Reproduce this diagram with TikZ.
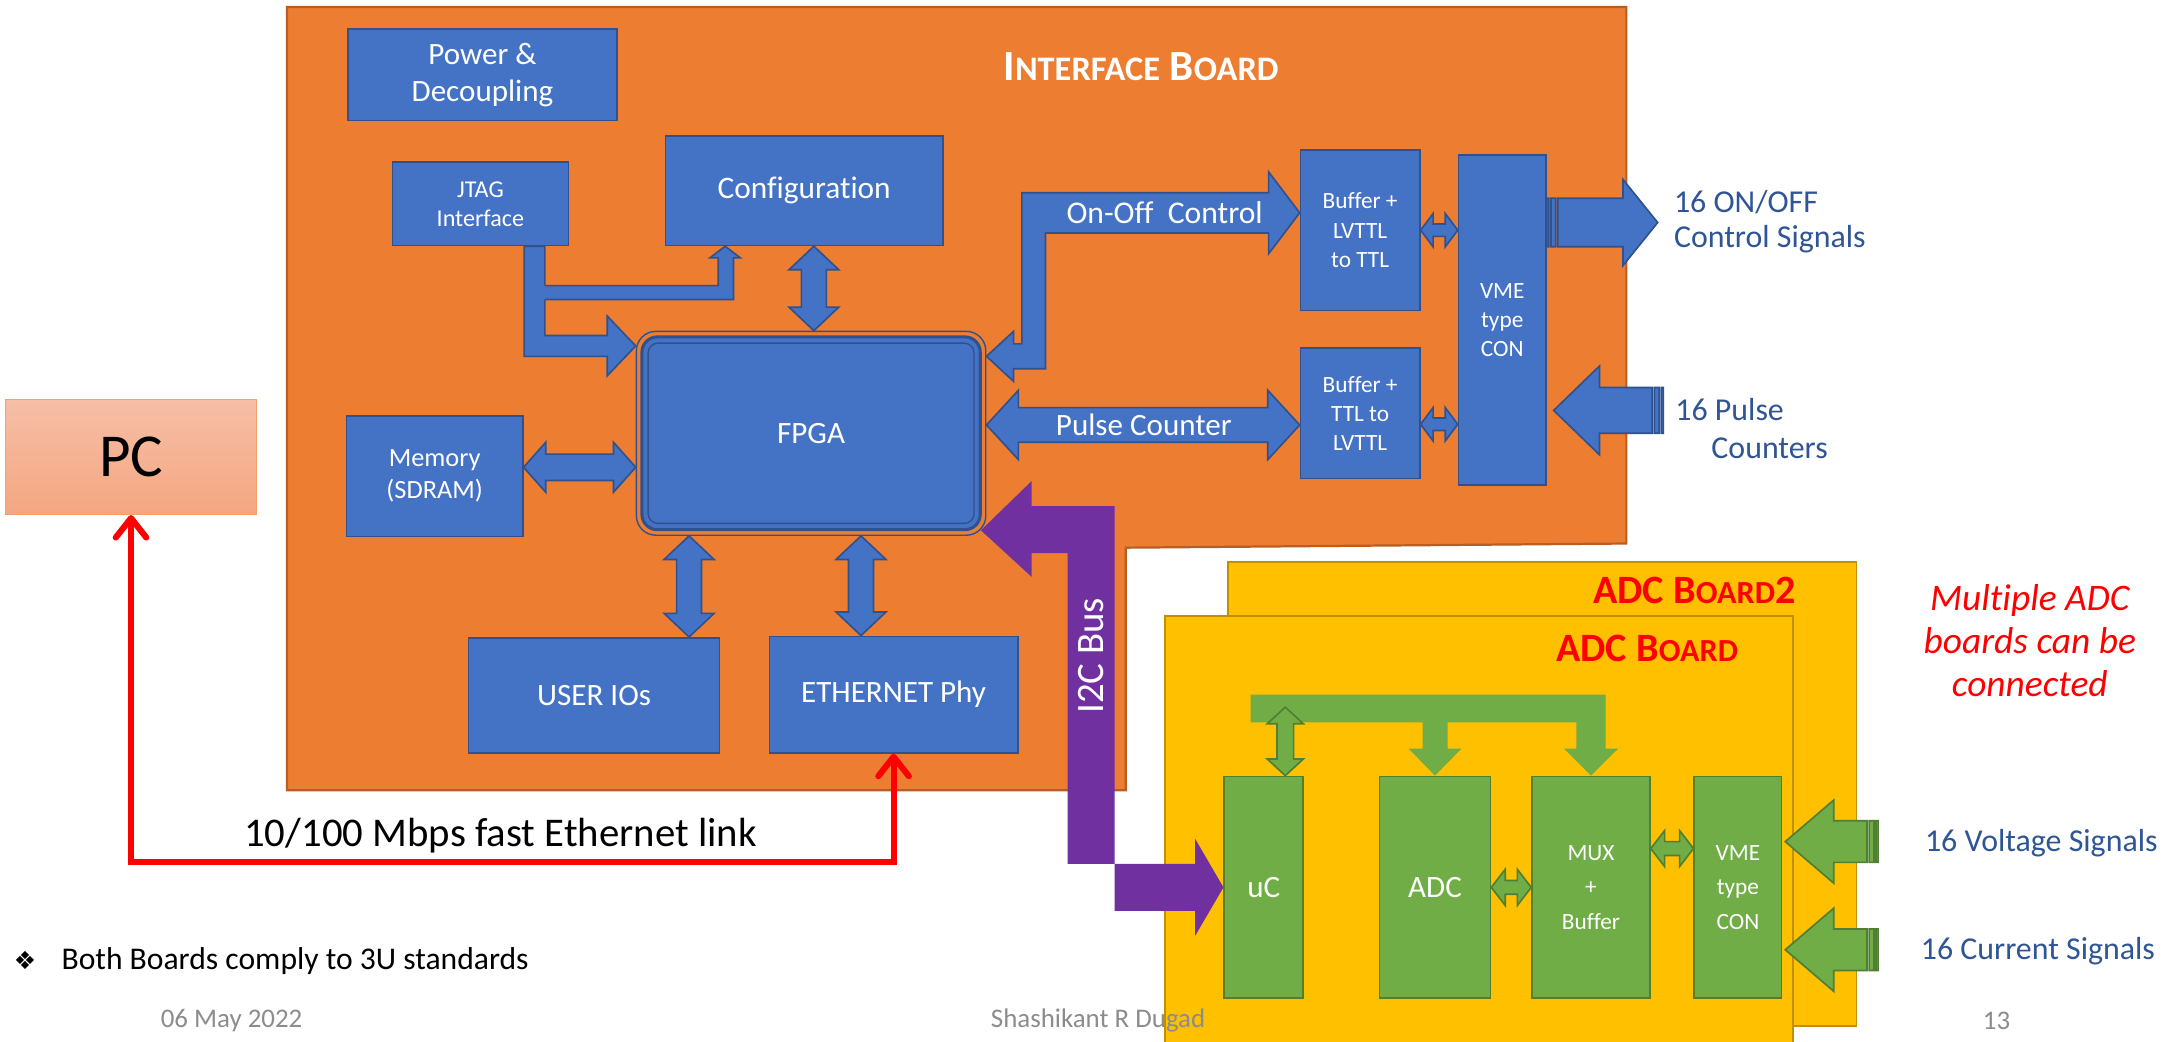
\documentclass[tikz,border=0pt]{standalone}
\usepackage{fontspec}
\setmainfont{Carlito}[Ligatures=NoCommon]
\newfontfamily\symfont{DejaVu Sans}
\usetikzlibrary{calc, arrows.meta}

\definecolor{ifblue}{HTML}{4472C4}
\definecolor{ifline}{HTML}{2F528F}
\definecolor{board}{HTML}{ED7D31}
\definecolor{boardline}{HTML}{B85E22}
\definecolor{adcyel}{HTML}{FFC000}
\definecolor{adcline}{HTML}{BF9000}
\definecolor{ucgreen}{HTML}{70AD47}
\definecolor{grnline}{HTML}{507E32}
\definecolor{i2cpurple}{HTML}{7030A0}
\definecolor{sigblue}{HTML}{2F5597}
\definecolor{footgray}{HTML}{8C8C8C}
\definecolor{pctop}{HTML}{F6BFA8}
\definecolor{pcbot}{HTML}{F4A680}
\definecolor{pcline}{HTML}{F4A070}

\def\vpx{0.5pt}

% fat double arrows: tip, tip, shaft half width, head half width, head length
\newcommand{\dblH}[6][]{%
  \path[#1] let \p1=(#2), \p2=(#3) in
    (\x1,\y1) -- ({\x1+#6*\vpx},{\y1+#5*\vpx}) -- ({\x1+#6*\vpx},{\y1+#4*\vpx})
    -- ({\x2-#6*\vpx},{\y1+#4*\vpx}) -- ({\x2-#6*\vpx},{\y1+#5*\vpx}) -- (\x2,\y1)
    -- ({\x2-#6*\vpx},{\y1-#5*\vpx}) -- ({\x2-#6*\vpx},{\y1-#4*\vpx})
    -- ({\x1+#6*\vpx},{\y1-#4*\vpx}) -- ({\x1+#6*\vpx},{\y1-#5*\vpx}) -- cycle;}
\newcommand{\dblV}[6][]{%
  \path[#1] let \p1=(#2), \p2=(#3) in
    (\x1,\y1) -- ({\x1+#5*\vpx},{\y1-#6*\vpx}) -- ({\x1+#4*\vpx},{\y1-#6*\vpx})
    -- ({\x1+#4*\vpx},{\y2+#6*\vpx}) -- ({\x1+#5*\vpx},{\y2+#6*\vpx}) -- (\x1,\y2)
    -- ({\x1-#5*\vpx},{\y2+#6*\vpx}) -- ({\x1-#4*\vpx},{\y2+#6*\vpx})
    -- ({\x1-#4*\vpx},{\y1-#6*\vpx}) -- ({\x1-#5*\vpx},{\y1-#6*\vpx}) -- cycle;}
% striped signal arrow: tip, direction (1 right, -1 left), length, head length, shaft half, head half
\newcommand{\sigarrow}[7][]{%
  \path[#1] let \p1=(#2) in
    (\x1,\y1) -- ({\x1-(#3)*#5*\vpx},{\y1+#7*\vpx}) -- ({\x1-(#3)*#5*\vpx},{\y1+#6*\vpx})
    -- ({\x1-(#3)*(#4-8)*\vpx},{\y1+#6*\vpx}) -- ({\x1-(#3)*(#4-8)*\vpx},{\y1-#6*\vpx})
    -- ({\x1-(#3)*#5*\vpx},{\y1-#6*\vpx}) -- ({\x1-(#3)*#5*\vpx},{\y1-#7*\vpx}) -- cycle
    ({\x1-(#3)*(#4-6.5)*\vpx},{\y1-#6*\vpx}) rectangle ({\x1-(#3)*(#4-3)*\vpx},{\y1+#6*\vpx})
    ({\x1-(#3)*(#4-1.5)*\vpx},{\y1-#6*\vpx}) rectangle ({\x1-(#3)*#4*\vpx},{\y1+#6*\vpx});}

\begin{document}
\begin{tikzpicture}[x=0.5pt, y=-0.5pt, wh/.style 2 args={minimum width=#1*\vpx, minimum height=#2*\vpx}]
    \tikzstyle{blk}=[draw=ifline, fill=ifblue, line width=0.6pt, text=white, inner sep=0pt, align=center, font=\fontsize{11.2}{13.5}\selectfont]
    \tikzstyle{smalltxt}=[font=\fontsize{8.4}{10.5}\selectfont]
    \tikzstyle{grn}=[blk, draw=grnline, fill=ucgreen]
    \tikzstyle{fat}=[fill=ifblue, draw=ifline, line width=0.6pt]
    \tikzstyle{fatgrn}=[fill=ucgreen, draw=grnline, line width=0.6pt]
    \tikzstyle{sig}=[text=sigblue, font=\fontsize{11.5}{12.5}\selectfont, align=left, anchor=west, inner sep=0pt]
    \tikzstyle{link}=[red, line width=2.2pt, {Straight Barb[length=7pt,width=11pt,round]}-{Straight Barb[length=7pt,width=11pt,round]}]
    \tikzstyle{foot}=[text=footgray, font=\fontsize{9.7}{11}\selectfont]

    \fill[white] (0,0) rectangle (1568,751);
    \useasboundingbox (0,0) rectangle (1568,751);

    % boards
    \draw[fill=board, draw=boardline, line width=0.8pt] (207,5) -- (1173,5) -- (1173,392) -- (812,395) -- (812,570) -- (207,570) -- cycle;
    \draw[fill=adcyel, draw=adcline, line width=0.7pt] (886,405) rectangle (1339,740);
    \draw[fill=adcyel, draw=adcline, line width=0.7pt] (840,444) rectangle (1293,760);

    \node[text=white, font=\bfseries\fontsize{15.5}{18}\selectfont] (iftitle) at (823,48) {I{\fontsize{12.4}{14}\selectfont NTERFACE} B{\fontsize{12.4}{14}\selectfont OARD}};
    \node[text=red, font=\bfseries\fontsize{14.5}{17}\selectfont] (adc2title) at (1222,426) {ADC B{\fontsize{11.6}{14}\selectfont OARD}2};
    \node[text=red, font=\bfseries\fontsize{14.5}{17}\selectfont] (adctitle) at (1188,468) {ADC B{\fontsize{11.6}{14}\selectfont OARD}};

    \node[draw=pcline, line width=0.5pt, top color=pctop, bottom color=pcbot, wh={181}{83}, inner sep=0pt, font=\fontsize{22}{26}\selectfont] (pc) at (94.5,329.5) {PC};

    % interface board blocks
    \node[blk, wh={194}{66}] (pwr) at (348,54) {Power \&\\Decoupling};
    \node[blk, wh={127}{60}, font=\fontsize{8.7}{10.5}\selectfont] (jtag) at (346.5,147) {JTAG\\Interface};
    \node[blk, wh={200}{79}, font=\fontsize{11.3}{13.5}\selectfont] (cfg) at (580,137.5) {Configuration};
    \node[blk, wh={127}{87}, font=\fontsize{9.5}{11.5}\selectfont] (mem) at (313.5,343.5) {Memory\\(SDRAM)};
    \node[blk, wh={181}{83}] (usr) at (428.5,501.5) {USER IOs};
    \node[blk, wh={179}{84}] (eth) at (644.5,501) {ETHERNET Phy};
    \node[blk, smalltxt, wh={86}{116}] (buf1) at (981,166) {Buffer +\\LVTTL\\to TTL};
    \node[blk, smalltxt, wh={86}{94}] (buf2) at (981,298) {Buffer +\\TTL to\\LVTTL};
    \node[blk, smalltxt, wh={63}{238}] (vme) at (1083.5,231) {VME\\type\\CON};
    \node[draw=ifline, line width=0.5pt, rounded corners=7pt, wh={252}{147}, text=white, font=\fontsize{11.2}{13.5}\selectfont,
      path picture={
        \draw[ifline, fill=ifblue, line width=1.1pt, rounded corners=5.5pt] ([shift={(4,4)}]path picture bounding box.north west) rectangle ([shift={(-4,-4)}]path picture bounding box.south east);
        \draw[ifline, line width=0.5pt, rounded corners=3.5pt] ([shift={(8.5,8.5)}]path picture bounding box.north west) rectangle ([shift={(-8.5,-8.5)}]path picture bounding box.south east);
      }] (fpga) at (585,312.5) {FPGA};

    % adc board blocks
    \node[grn, wh={57}{160}] (uc) at (911.5,640) {uC};
    \node[grn, wh={80}{160}] (adc) at (1035,640) {ADC};
    \node[grn, wh={85}{160}, font=\fontsize{8.4}{12.5}\selectfont] (mux) at (1147.5,640) {MUX\\+\\Buffer};
    \node[grn, wh={63}{160}, font=\fontsize{8.4}{12.5}\selectfont] (vme2) at (1253.5,640) {VME\\type\\CON};

    % jtag feeds fpga and configuration
    \path[fat] (jtag.south -| 378,0) -- (jtag.south -| 393,0) -- (393,242) -- (438,242) -- (438,228) -- (fpga.west |- 0,249.5) -- (438,271) -- (438,257) -- (378,257) -- cycle;
    \fill[ifblue] (391,206) -- (518,206) -- (518,186) -- (512,186) -- (cfg.south -| 523,0) -- (534,186) -- (529,186) -- (529,216) -- (391,216) -- cycle;
    \draw[ifline, line width=0.6pt] (393,206) -- (518,206) -- (518,186) -- (512,186) -- (cfg.south -| 523,0) -- (534,186) -- (529,186) -- (529,216) -- (393,216);

    \path[fat] (fpga.east |- 0,257) -- (731,239) -- (731,248) -- (737,248) -- (737,139) -- (915,139) -- (915,124) -- (buf1.west |- 0,153.5) -- (915,183) -- (915,168) -- (754,168) -- (754,266) -- (731,266) -- (731,275) -- cycle;
    \node[text=white, font=\fontsize{11.4}{13}\selectfont] (onofftxt) at (840,153.5) {On-Off\ \ Control};

    \dblV[fat]{$(cfg.south)+(7,0)$}{fpga.north}{9}{18}{17}
    \dblV[fat]{$(fpga.south)+(-88,0)$}{usr.north}{9}{18}{17}
    \dblV[fat]{$(fpga.south)+(36,0)$}{eth.north}{9}{18}{17}
    \dblH[fat]{$(mem.east)+(0,-6.5)$}{fpga.west}{9.5}{18}{16}
    \dblH[fat]{$(fpga.east)+(0,-6)$}{buf2.west}{12.5}{25}{23}
    \node[text=white, font=\fontsize{11.2}{13}\selectfont] (pulsetxt) at (825,306.5) {Pulse Counter};
    \dblH[fat]{buf1.east}{vme.west}{4.5}{12}{9}
    \dblH[fat]{$(buf2.east)+(0,8)$}{vme.west}{4.5}{12}{9}

    \sigarrow[fat]{$(vme.east)+(80,-70.5)$}{1}{80}{25}{17.5}{31}
    \sigarrow[fat]{$(vme.east)+(5,65)$}{-1}{79}{33}{16.5}{32}
    \node[sig] (onofflbl) at (1207,160) {16 ON/OFF\\Control Signals};
    \node[sig, font=\fontsize{11.5}{13.75}\selectfont] (pulselbl) at (1208,309) {16 Pulse\\\hspace*{13pt}Counters};

    % i2c bus down to the adc board
    \fill[i2cpurple] ($(fpga.south east)+(-4,-4)$) -- (744,347) -- (744,365) -- (804,365) -- (804,657) -- (862,657) -- (862,675) -- (uc.west) -- (862,605) -- (862,623) -- (770,623) -- (770,399) -- (744,399) -- (744,416) -- cycle;
    \node[text=white, rotate=90, font=\fontsize{14}{16}\selectfont] (i2ctxt) at (787,473) {I2C Bus};

    % local bus on the adc board
    \coordinate (bustop) at (927,510);
    \fill[ucgreen] (902,501) -- (1158,501) -- (1158,540) -- (1167,540) -- (mux.north) -- (1128,540) -- (1137,540) -- (1137,521) -- (1044,521) -- (1044,540) -- (1054,540) -- (adc.north) -- (1016,540) -- (1026,540) -- (1026,521) -- (902,521) -- cycle;
    \dblV[fatgrn]{bustop}{uc.north}{6}{13}{12}
    \dblH[fatgrn]{adc.east}{mux.west}{5}{13}{10}
    \dblH[fatgrn]{$(mux.east)+(0,-28)$}{vme2.west}{5}{13}{10}
    \sigarrow[fatgrn]{$(vme2.east)+(2,-33)$}{-1}{67}{35}{15}{30}
    \sigarrow[fatgrn]{$(vme2.east)+(2,45)$}{-1}{67}{35}{15}{30}
    \node[sig] (voltlbl) at (1388,608) {16 Voltage Signals};
    \node[sig] (currlbl) at (1385,686) {16 Current Signals};
    \node[text=red, align=center, font=\itshape\fontsize{13.5}{15.5}\selectfont] (multi) at (1464,462) {Multiple ADC\\boards can be\\connected};

    % ethernet link to the pc
    \coordinate (lnk) at (0,622);
    \draw[link] (eth.south) -- (eth.south |- lnk) -| (pc.south);
    \node[font=\fontsize{14.7}{17}\selectfont] (linktxt) at (361,603) {10/100 Mbps fast Ethernet link};

    \node[inner sep=0pt, font=\symfont\fontsize{9}{10}\selectfont] (bullet) at (18,693) {❖};
    \node[anchor=west, inner sep=0pt, font=\fontsize{11.4}{13}\selectfont] (note) at (44,693) {Both Boards comply to 3U standards};
    \node[foot] (date) at (167,736) {06 May 2022};
    \node[foot] (author) at (792,736) {Shashikant R Dugad};
    \node[foot] (page) at (1440,736) {13};
\end{tikzpicture}
\end{document}
